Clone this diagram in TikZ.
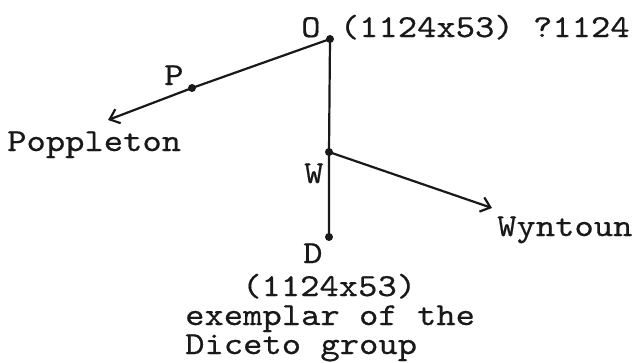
\documentclass[tikz,border=0pt]{standalone}
\usepackage{fontspec}
\newfontfamily\twfont[FakeBold=0.5,FakeStretch=1.15]{lmmono10-regular.otf}
\usetikzlibrary{arrows.meta}
\tikzset{
  lbl/.style={anchor=base west, inner sep=0pt, font=\twfont\fontsize{32}{28}\selectfont, text=black!90, text height=20pt, text depth=4pt},
  edge/.style={line width=2.2pt, black!90},
  arr/.style={edge, -{Straight Barb[length=9pt,width=15pt,line width=2.2pt]}},
  dot/.style={circle, fill=black!90, inner sep=0pt, minimum size=8pt}
}
\begin{document}
\begin{tikzpicture}[x=1pt,y=-1pt]
\fill[white] (0,0) rectangle (636,362);
\useasboundingbox (0,0) rectangle (636,362);
% points
\node[dot] (O) at (330,39) {};
\node[dot] (P) at (192,88) {};
\node[dot] (W) at (329,152) {};
\node[dot] (D) at (329,237) {};
\coordinate (Pend) at (108,120);
\coordinate (Wend) at (492,208);
% connectors
\draw[edge] (O.center) -- (P.center);
\draw[arr] (P.center) -- (Pend);
\draw[edge] (O.center) -- (W.center) -- (D.center);
\draw[arr] (W.center) -- (Wend);
% labels
\node[lbl] (lO) at (301,37) {O (1124x53) ?1124};
\node[lbl] (lP) at (164,85) {P};
\node[lbl] (lPop) at (7,151) {Poppleton};
\node[lbl] (lW) at (304,183) {W};
\node[lbl] (lWyn) at (497,236) {Wyntoun};
\node[lbl] (lD) at (303,263) {D};
\node[lbl] (c1) at (242,296) {(1124x53)};
\node[lbl] (c2) at (185,325) {exemplar of the};
\node[lbl] (c3) at (185,354) {Diceto group};
\end{tikzpicture}
\end{document}
